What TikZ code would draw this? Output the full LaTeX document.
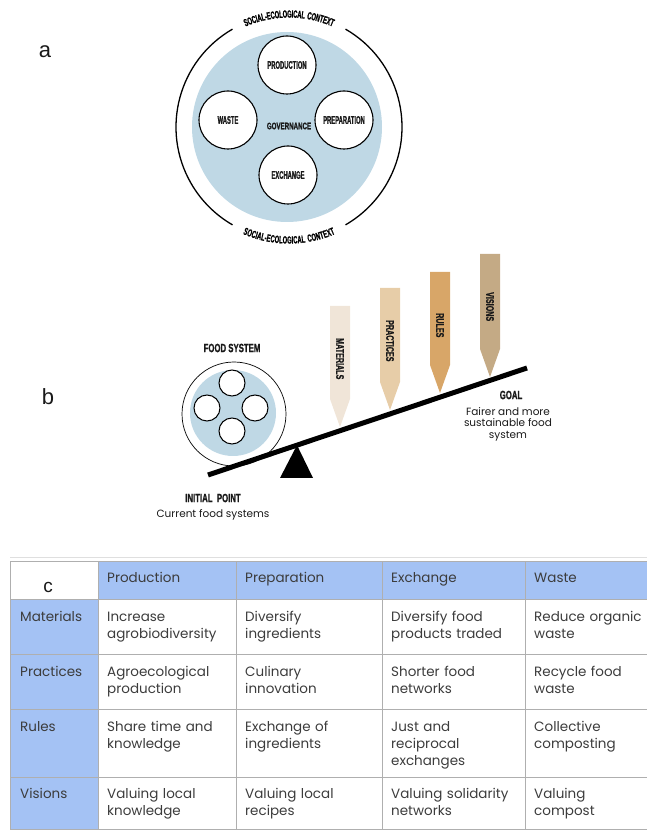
\documentclass[tikz,border=0pt]{standalone}
\usepackage{fontspec}
\setmainfont{Liberation Sans}
\newfontfamily\condfont[FakeStretch=0.53,FakeBold=1]{Liberation Sans}
\newfontfamily\widecondfont[FakeStretch=0.65,FakeBold=1]{Liberation Sans}
\newfontfamily\arcfont[FakeStretch=0.55,FakeBold=1,LetterSpace=8]{Liberation Sans}
\newfontfamily\popfont{Poppins}
\usetikzlibrary{calc,positioning,decorations.text}
\definecolor{govblue}{RGB}{191,216,229}
\definecolor{cellblue}{RGB}{164,194,244}
\definecolor{gridgray}{RGB}{175,175,175}
\definecolor{matcol}{RGB}{240,229,216}
\definecolor{praccol}{RGB}{231,205,168}
\definecolor{rulecol}{RGB}{216,166,104}
\definecolor{viscol}{RGB}{196,170,133}
\definecolor{ink}{RGB}{25,25,25}
\definecolor{celltext}{RGB}{60,60,60}
\newcommand\ctxfont{\arcfont\bfseries\fontsize{10.5}{11}\selectfont}
\tikzset{
  panel/.style={font=\fontsize{22}{24}\selectfont, text=ink, inner sep=0pt},
  caps/.style={font=\condfont\bfseries\fontsize{11}{12}\selectfont, text=ink, inner sep=0pt},
  capsbig/.style={font=\widecondfont\bfseries\fontsize{12}{13}\selectfont, text=ink, inner sep=0pt},
  stage/.style={circle, draw, fill=white, line width=1.1pt, minimum size=58pt, inner sep=0pt, caps},
  mini/.style={circle, draw, fill=white, line width=1pt, minimum size=26pt, inner sep=0pt},
  stakelabel/.style={font=\widecondfont\bfseries\fontsize{11}{12}\selectfont, text=ink, inner sep=0pt, rotate=-90, anchor=west},
  note/.style={font=\popfont\fontsize{10.5}{11.5}\selectfont, text=ink, inner sep=0pt, align=center},
  cell/.style={font=\popfont\fontsize{13.5}{17}\selectfont, text=celltext, inner sep=0pt, anchor=base west, text width=130pt, align=left}
}
\begin{document}
\begin{tikzpicture}[x=1pt,y=1pt]
\useasboundingbox (0,0) rectangle (647,839);
\pgfmathsetmacro{\ringr}{113}
\pgfmathsetmacro{\govr}{95}

\node[panel] (lbla) at (45,787) {a};
\fill[govblue] (287,712) circle (\govr);
\draw[line width=1.3pt] (289,712) ++(60:\ringr) arc (60:-60:\ringr);
\draw[line width=1.3pt] (289,712) ++(120:\ringr) arc (120:240:\ringr);
\path[decorate,decoration={text along path,text align=center,raise=-3.6pt,text={|\ctxfont|SOCIAL-ECOLOGICAL CONTEXT}}] (289,712) ++(145:\ringr) arc (145:35:\ringr);
\path[decorate,decoration={text along path,text align=center,raise=-3.6pt,text={|\ctxfont|SOCIAL-ECOLOGICAL CONTEXT}}] (289,712) ++(215:\ringr) arc (215:325:\ringr);
\node[stage] (prod) at (287,774) {PRODUCTION};
\node[stage] (prep) at (344,719) {PREPARATION};
\node[stage] (waste) at (228,719) {WASTE};
\node[stage] (exch) at (288,664) {EXCHANGE};
\node[caps, font=\widecondfont\bfseries\fontsize{9.5}{10}\selectfont] (gov) at (289,713) {GOVERNANCE};

\node[panel] (lblb) at (48,442) {b};
\node[capsbig] (fstitle) at (232,491) {FOOD SYSTEM};
\node[circle, draw, line width=0.7pt, minimum size=104pt, inner sep=0pt] (fsring) at (234,425) {};
\fill[govblue] (233,426) circle (43);
\node[mini] (fsa) at (232,456) {};
\node[mini] (fsb) at (255,431) {};
\node[mini] (fsc) at (207,431) {};
\node[mini] (fsd) at (232,408) {};
\coordinate (lvl) at (208,364);
\coordinate (lvr) at (527,471);
\fill (280,361) -- (313,361) -- ($(lvl)!0.279!(lvr)$) -- cycle;
\draw[line width=5pt] (lvl) -- (lvr);
\node[capsbig] (init) at (213,341) {INITIAL\ \ POINT};
\node[note] (cur) at (213,324) {Current food systems};
\node[capsbig] (goal) at (511,444) {GOAL};
\node[note] (fair) at (508,415) {Fairer and more\\sustainable food\\system};

\fill[matcol] (330,533) -- (350,533) -- (350,440) -- (340,412) -- (330,440) -- cycle;
\node[stakelabel] (mat) at (340,501) {MATERIALS};
\fill[praccol] (380,551) -- (400,551) -- (400,457) -- (390,429) -- (380,457) -- cycle;
\node[stakelabel] (prac) at (390,519) {PRACTICES};
\fill[rulecol] (430,567) -- (450,567) -- (450,474) -- (440,446) -- (430,474) -- cycle;
\node[stakelabel] (rule) at (440,526) {RULES};
\fill[viscol] (480,585) -- (500,585) -- (500,490) -- (490,462) -- (480,490) -- cycle;
\node[stakelabel] (vis) at (490,547) {VISIONS};

\draw[gray!25, line width=0.8pt] (10,281.5) -- (647,281.5);
\fill[cellblue] (98,240) rectangle (647,278);
\fill[cellblue] (10,10) rectangle (98,240);
\draw[gridgray, line width=0.8pt] (10,278) -- (647,278) (10,240) -- (647,240) (10,185) -- (647,185) (10,130) -- (647,130) (10,62) -- (647,62) (10,10) -- (647,10);
\draw[gridgray, line width=0.8pt] (10,10) -- (10,278) (98,10) -- (98,278) (236,10) -- (236,278) (382,10) -- (382,278) (525,10) -- (525,278);
\node[panel, font=\fontsize{19}{20}\selectfont] (lblc) at (48,252) {c};
\node[cell] (hprod) at (107,256.5) {Production};
\node[cell] (hprep) at (245,256.5) {Preparation};
\node[cell] (hexch) at (391,256.5) {Exchange};
\node[cell] (hwaste) at (534,256.5) {Waste};
\node[cell] (rmat) at (20,217.5) {Materials};
\node[cell] (rprac) at (20,162.5) {Practices};
\node[cell] (rrule) at (20,107.5) {Rules};
\node[cell] (rvis) at (20,40.5) {Visions};
\node[cell] (c11) at (107,217.5) {Increase\\agrobiodiversity};
\node[cell] (c12) at (245,217.5) {Diversify\\ingredients};
\node[cell] (c13) at (391,217.5) {Diversify food\\products traded};
\node[cell] (c14) at (534,217.5) {Reduce organic\\waste};
\node[cell] (c21) at (107,162.5) {Agroecological\\production};
\node[cell] (c22) at (245,162.5) {Culinary\\innovation};
\node[cell] (c23) at (391,162.5) {Shorter food\\networks};
\node[cell] (c24) at (534,162.5) {Recycle food\\waste};
\node[cell] (c31) at (107,107.5) {Share time and\\knowledge};
\node[cell] (c32) at (245,107.5) {Exchange of\\ingredients};
\node[cell] (c33) at (391,107.5) {Just and\\reciprocal\\exchanges};
\node[cell] (c34) at (534,107.5) {Collective\\composting};
\node[cell] (c41) at (107,40.5) {Valuing local\\knowledge};
\node[cell] (c42) at (245,40.5) {Valuing local\\recipes};
\node[cell] (c43) at (391,40.5) {Valuing solidarity\\networks};
\node[cell] (c44) at (534,40.5) {Valuing\\compost};
\end{tikzpicture}
\end{document}
